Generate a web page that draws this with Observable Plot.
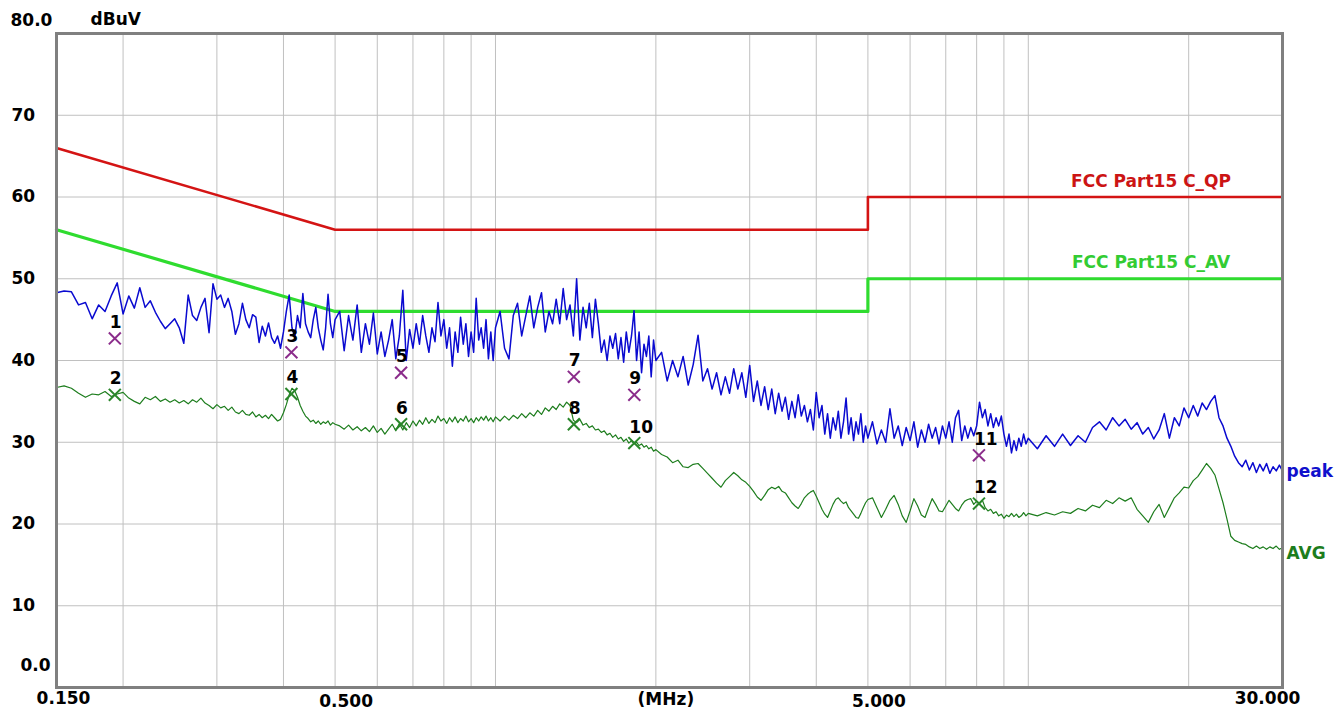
<!DOCTYPE html>
<html>
<head>
<meta charset="utf-8">
<script src="https://cdn.jsdelivr.net/npm/d3@7"></script>
<script src="https://cdn.jsdelivr.net/npm/@observablehq/plot@0.6"></script>
<style>
  html, body { margin: 0; padding: 0; background: #ffffff; }
  #chart { width: 1344px; height: 713px; }
</style>
</head>
<body>
<div id="chart"></div>
<script>
// ---- Sweep frequencies (MHz) ----
const freqs = [
  0.150,0.155,0.160,0.165,0.170,0.175,0.180,0.185,0.190,0.195,0.200,0.205,0.210,0.215,0.220,0.225,0.230,0.235,0.240,0.245,0.250,0.255,0.260,0.265,0.270,0.275,0.280,0.285,0.290,0.295,0.300,
  0.305,0.310,0.315,0.320,0.325,0.330,0.335,0.340,0.345,0.350,0.355,0.360,0.365,0.370,0.375,0.380,0.385,0.390,0.395,0.400,0.405,0.410,0.415,0.420,0.425,0.430,0.435,0.440,0.445,0.450,0.455,0.460,0.465,0.470,0.475,0.480,0.485,0.490,0.495,0.500,
  0.51,0.52,0.53,0.54,0.55,0.56,0.57,0.58,0.59,0.60,0.61,0.62,0.63,0.64,0.65,0.66,0.67,0.68,0.69,0.70,0.71,0.72,0.73,0.74,0.75,0.76,0.77,0.78,0.79,0.80,0.81,0.82,0.83,0.84,0.85,0.86,0.87,0.88,0.89,0.90,0.91,0.92,0.93,0.94,0.95,0.96,0.97,0.98,0.99,1.00,
  1.02,1.04,1.06,1.08,1.10,1.12,1.14,1.16,1.18,1.20,1.22,1.24,1.26,1.28,1.30,1.32,1.34,1.36,1.38,1.40,1.42,1.44,1.46,1.48,1.50,1.52,1.54,1.56,1.58,1.60,1.62,1.64,1.66,1.68,1.70,1.72,1.74,1.76,1.78,1.80,1.82,1.84,1.86,1.88,1.90,1.92,1.94,1.96,1.98,2.00,
  2.05,2.10,2.15,2.20,2.25,2.30,2.35,2.40,2.45,2.50,2.55,2.60,2.65,2.70,2.75,2.80,2.85,2.90,2.95,3.00,3.05,3.10,3.15,3.20,3.25,3.30,3.35,3.40,3.45,3.50,3.55,3.60,3.65,3.70,3.75,3.80,3.85,3.90,3.95,4.00,4.05,4.10,4.15,4.20,4.25,4.30,4.35,4.40,4.45,4.50,4.55,4.60,4.65,4.70,4.75,4.80,4.85,4.90,4.95,5.00,
  5.1,5.2,5.3,5.4,5.5,5.6,5.7,5.8,5.9,6.0,6.1,6.2,6.3,6.4,6.5,6.6,6.7,6.8,6.9,7.0,7.1,7.2,7.3,7.4,7.5,7.6,7.7,7.8,7.9,8.0,8.1,8.2,8.3,8.4,8.5,8.6,8.7,8.8,8.9,9.0,9.1,9.2,9.3,9.4,9.5,9.6,9.7,9.8,9.9,10.0,
  10.4,10.8,11.2,11.6,12.0,12.4,12.8,13.2,13.6,14.0,14.4,14.8,15.2,15.6,16.0,16.4,16.8,17.2,17.6,18.0,18.4,18.8,19.2,19.6,20.0,20.4,20.8,21.2,21.6,22.0,22.4,22.8,23.2,23.6,24.0,24.4,24.8,25.2,25.6,26.0,26.4,26.8,27.2,27.6,28.0,28.4,28.8,29.2,29.6,30.0
];

// ---- Peak trace (dBuV) ----
const peakLevels = [
  48.3,48.5,48.4,46.8,47.1,45.1,46.8,46.0,47.9,49.5,45.7,47.9,46.4,48.9,46.5,47.3,45.9,44.8,43.9,44.5,45.1,44.0,42.1,48.0,45.5,44.9,46.5,47.6,43.4,49.4,47.5,
  48.0,46.5,47.6,46.0,43.2,44.5,47.0,45.0,44.0,45.6,45.3,42.2,44.2,43.0,44.6,42.8,42.1,43.0,41.5,43.5,46.0,48.0,44.0,42.8,45.5,44.0,48.2,44.5,43.5,42.8,45.0,46.5,44.0,42.5,41.3,44.0,48.1,44.5,42.8,45.0,
  46.0,41.2,45.5,42.5,46.8,41.0,44.5,42.0,45.8,40.8,43.5,40.5,42.5,45.0,40.2,43.0,48.6,40.0,43.8,41.5,44.5,42.0,45.5,43.0,41.0,44.0,42.3,47.1,43.0,45.0,41.5,44.0,39.3,43.5,41.0,45.3,42.0,44.5,40.5,43.5,41.0,47.6,42.5,44.0,41.5,45.0,40.2,43.5,40.0,44.0,
  46.0,41.5,40.2,45.5,47.0,43.0,45.5,47.9,44.0,46.5,48.3,43.5,46.0,44.5,47.5,44.5,48.8,45.0,46.8,43.0,50.0,42.5,46.5,44.0,47.0,42.8,47.5,44.5,41.0,42.5,40.0,43.0,41.5,43.3,40.2,42.8,39.8,43.5,41.0,43.0,46.1,40.0,43.5,38.5,42.0,40.5,43.0,38.0,42.5,40.0,
  41.0,37.5,40.0,38.0,40.5,37.0,39.5,43.1,37.5,39.0,36.5,38.5,35.8,38.0,36.0,39.0,36.5,38.5,35.5,39.4,35.0,37.5,34.5,36.8,34.0,36.5,33.5,36.0,33.8,35.5,32.8,35.0,33.0,35.8,33.2,34.5,32.5,34.0,31.5,36.1,33.0,34.5,31.0,33.5,30.5,33.0,31.5,33.8,30.5,32.5,35.4,31.0,33.0,30.2,32.5,31.0,33.5,30.0,32.0,30.5,
  32.5,29.8,31.5,30.0,34.1,30.5,32.0,29.6,31.8,30.2,32.5,29.4,31.5,30.0,32.2,30.5,31.8,29.8,32.0,30.5,32.5,30.0,33.0,33.9,30.2,32.0,30.5,31.8,30.8,32.0,34.9,33.0,34.0,32.0,33.5,31.8,33.0,32.0,33.2,31.0,29.5,31.0,28.7,30.2,29.0,30.5,29.5,31.0,29.8,30.5,
  29.2,30.8,29.5,31.0,29.6,30.8,30.0,31.8,32.5,31.5,33.0,32.0,32.8,31.6,32.4,31.0,31.8,30.4,31.5,33.5,30.5,33.0,32.0,34.2,33.0,34.5,33.2,34.8,34.0,35.0,35.7,33.0,32.0,30.5,29.5,28.3,27.5,27.0,27.8,26.6,27.5,26.3,27.3,26.5,27.4,26.2,27.0,26.5,27.2,26.5
];

// ---- Average trace (dBuV) ----
const avgLevels = [
  36.7,36.9,36.6,36.0,35.5,35.9,35.8,36.2,35.6,35.9,36.1,35.4,35.0,34.7,35.5,35.2,35.6,35.0,35.3,34.9,35.2,34.8,35.1,34.7,35.2,34.9,35.4,34.8,34.5,34.1,34.6,
  34.2,34.4,33.9,34.3,33.7,33.5,33.9,33.4,33.3,33.7,33.1,33.4,33.0,33.3,32.9,33.4,33.0,32.6,32.8,33.6,34.6,35.8,36.6,36.3,35.5,34.5,33.8,33.2,32.9,32.5,32.7,32.3,32.6,32.2,32.5,32.3,32.6,32.1,32.4,32.2,
  32.0,31.6,32.1,31.5,31.9,31.4,31.8,31.3,32.0,31.2,31.7,31.0,31.6,32.2,31.4,32.3,31.5,32.4,31.8,32.6,32.0,32.7,32.2,33.0,32.3,32.8,32.4,33.2,32.6,32.9,32.3,33.0,32.5,33.1,32.4,32.9,32.6,33.2,32.5,32.9,32.4,33.0,32.6,33.1,32.7,33.2,32.6,33.0,32.5,33.1,
  32.6,33.2,32.7,33.3,32.9,33.5,33.0,33.6,33.2,33.9,33.4,34.2,33.8,34.4,34.0,34.7,34.3,34.9,34.5,32.7,32.4,32.8,32.1,32.3,31.8,32.0,31.5,31.6,31.2,31.4,30.9,31.1,30.6,30.9,30.4,30.6,30.1,30.4,29.9,30.2,29.8,30.0,29.6,29.8,29.4,29.6,29.2,29.4,28.9,29.1,
  28.5,28.2,27.5,27.8,27.0,26.9,27.3,27.4,26.8,26.2,25.6,25.0,24.5,25.3,25.8,26.3,25.9,25.4,25.1,24.6,24.0,23.3,22.9,23.5,24.2,24.5,24.3,24.6,24.0,23.8,23.2,22.6,22.2,21.9,22.5,23.2,23.6,23.9,24.1,23.4,22.6,21.8,21.2,20.8,21.6,22.4,23.0,23.2,22.8,22.5,22.7,22.0,21.6,21.2,20.8,20.7,21.3,22.0,22.6,23.0,
  23.2,22.0,20.8,21.8,22.9,23.5,22.4,21.0,20.2,21.6,23.1,22.2,21.1,20.8,22.0,23.1,22.4,21.6,21.5,22.2,22.9,22.4,21.9,21.6,22.3,22.8,23.0,23.1,22.4,22.8,22.5,22.9,22.0,21.6,21.8,21.3,21.5,21.0,21.2,20.7,21.1,20.9,21.3,20.9,21.2,20.8,21.0,21.4,21.0,21.3,
  21.0,21.4,21.1,21.5,21.3,21.9,21.6,22.3,22.0,22.9,22.5,23.2,22.8,23.2,21.8,21.0,20.2,21.5,22.4,20.8,22.0,23.2,23.8,24.5,24.4,25.3,25.8,26.6,27.4,26.8,26.0,24.3,22.6,20.6,18.5,18.0,17.8,17.6,17.5,17.2,17.0,17.3,17.0,17.2,16.9,17.2,17.0,17.3,16.9,17.1
];

// ---- Limit lines (FCC Part 15 class C) ----
const limitFreqs = [0.15, 0.5, 5, 5, 30];
const qpLimit = [66, 56, 56, 60, 60];
const avLimit = [56, 46, 46, 50, 50];
const qpName = "FCC Part15 C_QP";
const avName = "FCC Part15 C_AV";

// ---- Measurement markers ----
const markerNums = ["1","2","3","4","5","6","7","8","9","10","11","12"];
const markerFreqs = [0.193,0.193,0.414,0.414,0.665,0.665,1.403,1.403,1.822,1.822,8.08,8.08];
const markerLevels = [42.7,35.8,41.0,35.9,38.5,32.2,38.0,32.2,35.8,29.9,28.4,22.5];
const markerKinds = ["QP","AV","QP","AV","QP","AV","QP","AV","QP","AV","QP","AV"];

// ---- Axes ----
const xGrid = [0.2,0.3,0.4,0.5,0.6,0.7,0.8,0.9,1,2,3,4,5,6,7,8,9,10,20];
const yGrid = [10,20,30,40,50,60,70];
const yTickLabels = ["10","20","30","40","50","60","70"];
const xTickValues = [0.15, 0.5, 5, 30];
const xTickLabels = ["0.150","0.500","5.000","30.000"];
const xUnitAt = 2;
const xUnit = "(MHz)";
const yTopLabel = "80.0";
const yBottomLabel = "0.0";
const yUnit = "dBuV";
const peakName = "peak";
const avgName = "AVG";

// ---- Build tables ----
const traceRows = freqs.map((f, i) => ({f, peak: peakLevels[i], avg: avgLevels[i]}));
const qpRows = limitFreqs.map((f, i) => ({f, v: qpLimit[i]}));
const avRows = limitFreqs.map((f, i) => ({f, v: avLimit[i]}));
const markerRows = markerNums.map((n, i) => ({n, f: markerFreqs[i], v: markerLevels[i], kind: markerKinds[i]}));

const FONT = "DejaVu Sans";
const txt = {fontFamily: FONT, fontWeight: "bold", fontSize: 17, lineAnchor: "middle"};

const chart = Plot.plot({
  width: 1344,
  height: 713,
  marginLeft: 56,
  marginRight: 62,
  marginTop: 33,
  marginBottom: 26,
  style: {background: "#ffffff", fontFamily: FONT, overflow: "visible"},
  x: {type: "log", domain: [0.15, 30], axis: null},
  y: {domain: [0, 80], axis: null},
  marks: [
    Plot.ruleX(xGrid, {stroke: "#c0c0c0", strokeWidth: 1}),
    Plot.ruleY(yGrid, {stroke: "#c0c0c0", strokeWidth: 1}),
    Plot.line(qpRows, {x: "f", y: "v", stroke: "#d41414", strokeWidth: 2.6}),
    Plot.line(avRows, {x: "f", y: "v", stroke: "#2fdc2f", strokeWidth: 3.2}),
    Plot.line(traceRows, {x: "f", y: "avg", stroke: "#1d7d1d", strokeWidth: 1.2}),
    Plot.line(traceRows, {x: "f", y: "peak", stroke: "#0a0ad0", strokeWidth: 1.5}),
    Plot.dot(markerRows, {x: "f", y: "v", symbol: "times", r: 5.5, strokeWidth: 2,
      stroke: d => d.kind === "QP" ? "#8b2c8b" : "#2a862a"}),
    Plot.text(markerRows, {x: "f", y: "v", text: "n", dx: -5, dy: -16, textAnchor: "start", fill: "#000", ...txt}),
    Plot.frame({stroke: "#808080", strokeWidth: 3}),
    // y labels
    Plot.text(yGrid, {y: d => d, text: (d, i) => yTickLabels[i], frameAnchor: "left", dx: -45, textAnchor: "start", fill: "#000", ...txt}),
    Plot.text([yTopLabel], {frameAnchor: "top-left", dx: -46, dy: -13, textAnchor: "start", fill: "#000", ...txt}),
    Plot.text([yUnit], {frameAnchor: "top-left", dx: 34, dy: -14, textAnchor: "start", fill: "#000", ...txt}),
    Plot.text([yBottomLabel], {frameAnchor: "bottom-left", dx: -6, dy: -22, textAnchor: "end", fill: "#000", ...txt}),
    // x labels
    Plot.text([xTickValues[0]], {x: d => d, text: () => xTickLabels[0], frameAnchor: "bottom", dy: 11, dx: 7, fill: "#000", ...txt}),
    Plot.text([xTickValues[1], xTickValues[2]], {x: d => d, text: (d, i) => xTickLabels[i + 1], frameAnchor: "bottom", dy: 14, dx: 11, fill: "#000", ...txt}),
    Plot.text([xTickValues[3]], {x: d => d, text: () => xTickLabels[3], frameAnchor: "bottom", dy: 11, dx: -15, fill: "#000", ...txt}),
    Plot.text([xUnitAt], {x: d => d, text: () => xUnit, frameAnchor: "bottom", dy: 12, dx: 10, fill: "#000", ...txt}),
    // limit labels
    Plot.text([qpName], {x: () => 17, y: () => qpLimit[qpLimit.length - 1], dy: -15, fill: "#cc1414", ...txt}),
    Plot.text([avName], {x: () => 17, y: () => avLimit[avLimit.length - 1], dy: -16, fill: "#33cc33", ...txt}),
    // trace labels
    Plot.text([peakName], {x: () => freqs[freqs.length - 1], y: () => peakLevels[peakLevels.length - 1], dx: 4, dy: 1, textAnchor: "start", fill: "#1010cc", ...txt}),
    Plot.text([avgName], {x: () => freqs[freqs.length - 1], y: () => avgLevels[avgLevels.length - 1], dx: 4, dy: 6, textAnchor: "start", fill: "#1d7d1d", ...txt})
  ]
});
document.getElementById("chart").appendChild(chart);
</script>
</body>
</html>
